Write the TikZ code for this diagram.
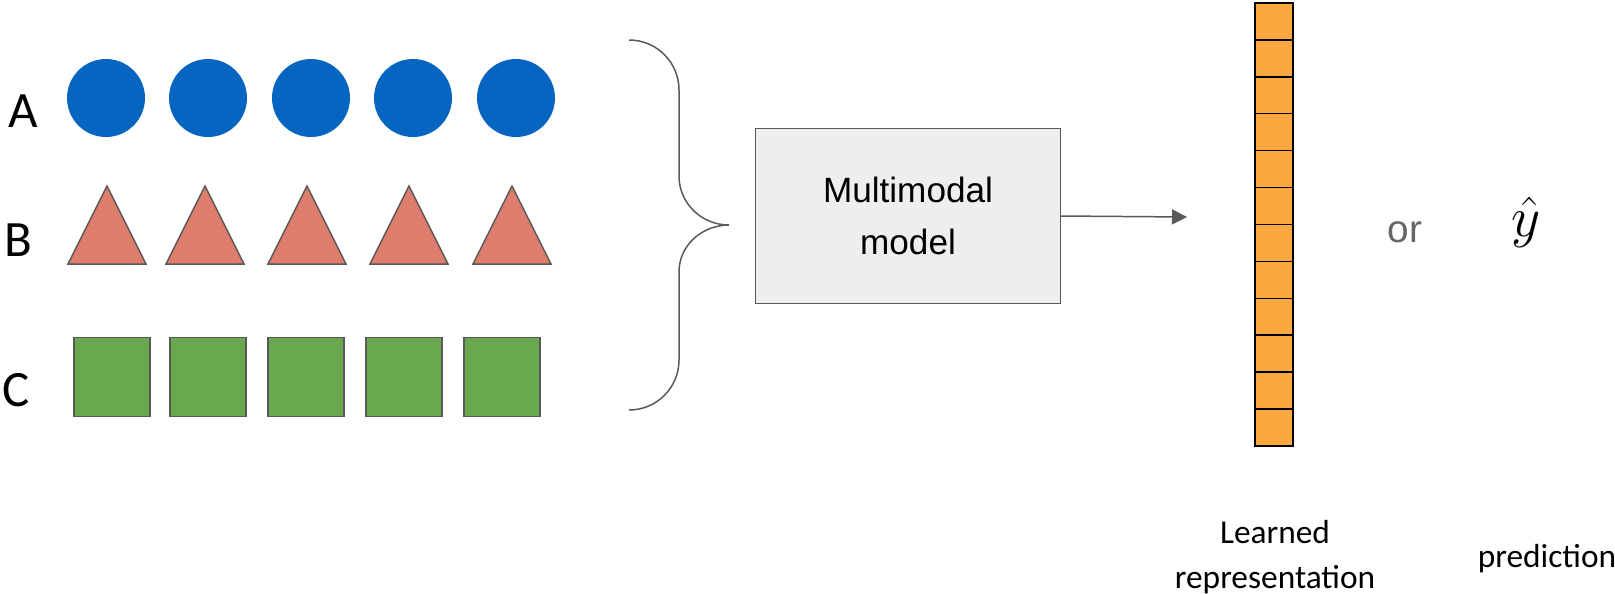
\documentclass[tikz,border=0pt]{standalone}
\usepackage{fontspec}
\setmainfont{Carlito}
\newfontfamily\slidefont{Liberation Sans}
\usetikzlibrary{arrows.meta}

\definecolor{dotblue}{HTML}{0565C0}
\definecolor{trisalmon}{HTML}{DE7D6B}
\definecolor{sqgreen}{HTML}{6AA84F}
\definecolor{edgegray}{HTML}{595959}
\definecolor{boxgray}{HTML}{EEEEEE}
\definecolor{cellorange}{HTML}{FBA83F}
\definecolor{orgray}{HTML}{666666}

\begin{document}
\begin{tikzpicture}[x=0.02cm,y=-0.02cm,
    modlabel/.style={inner sep=0pt, font=\fontsize{29}{34}\selectfont},
    dot/.style={circle, fill=dotblue, minimum size=1.56cm, inner sep=0pt},
    tri/.style={fill=trisalmon, draw=edgegray, line width=0.85pt, line join=miter},
    sq/.style={rectangle, fill=sqgreen, draw=edgegray, line width=0.85pt, minimum width=1.52cm, minimum height=1.58cm, inner sep=0pt},
    cell/.style={rectangle, fill=cellorange, draw=black, line width=0.8pt, minimum width=0.76cm, minimum height=0.738cm, inner sep=0pt},
    caption/.style={align=center, inner sep=0pt, font=\fontsize{19}{25.5}\selectfont}]
    \useasboundingbox (0,0) rectangle (1615,593);

    % the three modalities
    \node [modlabel] (labA) at (23,111) {A};
    \node [modlabel] (labB) at (18,240) {B};
    \node [modlabel] (labC) at (16,390) {C};

    \foreach \i/\x in {1/106, 2/208, 3/311, 4/413, 5/516}
        \node [dot] (a\i) at (\x,98) {};
    \foreach \x in {107, 205, 307, 409, 512}
        \draw [tri] (\x-39,264) -- (\x,186) -- (\x+39,264) -- cycle;
    \foreach \i/\x in {1/112, 2/208, 3/306, 4/404, 5/502}
        \node [sq] (c\i) at (\x,377) {};

    % brace
    \draw [edgegray, line width=0.85pt] (629,40) to[out=0,in=90] (679,90) -- (679,176)
        to[out=-90,in=180] (729,225) to[out=180,in=90] (679,272) -- (679,360)
        to[out=-90,in=0] (629,410);

    % model
    \node [rectangle, fill=boxgray, draw=edgegray, line width=0.85pt, minimum width=6.1cm, minimum height=3.5cm,
        align=center, font=\slidefont\fontsize{20}{30}\selectfont] (model) at (908,216) {Multimodal\\model};

    \coordinate (tip) at (1187,217);
    \draw [-{Triangle[length=0.3cm,width=0.3cm]}, edgegray, line width=0.85pt] (model.east) -- (tip);

    % learned vector
    \foreach \i in {0,...,11}
        \node [cell] (v\i) at (1274,21.5+36.9*\i) {};

    \node [font=\slidefont\fontsize{22}{26}\selectfont, text=orgray, inner sep=0pt] (or) at (1405,232) {or};
    % cm math stops at 24.88pt, so scale the node up
    \node [font=\fontsize{24.88}{30}\selectfont, inner sep=0pt, scale=1.3, transform shape] (yhat) at (1526,222) {$\hat{y}$};

    \node [caption] (rep) at (1275,557) {Learned\\representation};
    \node [caption] (pred) at (1547,559) {prediction};
\end{tikzpicture}
\end{document}
